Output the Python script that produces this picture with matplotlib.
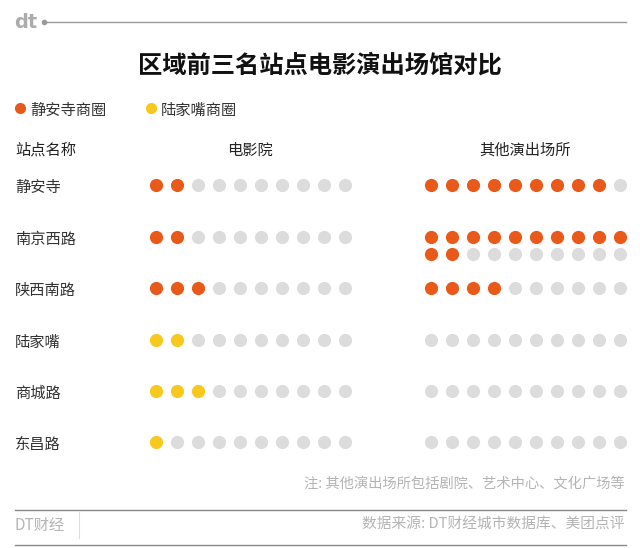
import matplotlib.pyplot as plt

plt.rcParams['font.family'] = ['Noto Sans CJK SC', 'DejaVu Sans']

# data
stations = ['静安寺', '南京西路', '陕西南路', '陆家嘴', '商城路', '东昌路']
area = ['静安寺商圈', '静安寺商圈', '静安寺商圈', '陆家嘴商圈', '陆家嘴商圈', '陆家嘴商圈']
cinema = [2, 2, 3, 2, 3, 1]
other = [9, 12, 4, 0, 0, 0]

colors = {'静安寺商圈': '#E8591A', '陆家嘴商圈': '#F7C81E'}
grey_dot = '#DCDCDC'
text_grey = '#B4B4B4'
dy = 2  # CJK glyphs sit a bit high with va='center'

fig = plt.figure(figsize=(6.4, 5.48), dpi=100)
ax = fig.add_axes([0, 0, 1, 1])
ax.set_xlim(0, 640)
ax.set_ylim(548, 0)
ax.axis('off')

# header logo + line
ax.text(14, 22, 'dt', fontsize=14, color='#ABABAB', fontweight='bold', va='center', family='DejaVu Sans')
ax.plot([44, 626], [22, 22], color='#999999', lw=1)
ax.plot([44], [22], 'o', color='#999999', ms=3)

ax.text(320, 64 + dy, '区域前三名站点电影演出场馆对比', fontsize=17.5, fontweight='bold',
        ha='center', va='center', color='#111111')

# legend
ax.plot(20, 108, 'o', color=colors['静安寺商圈'], ms=7)
ax.text(30, 108 + dy, '静安寺商圈', fontsize=11, va='center', color='#333333')
ax.plot(151, 108, 'o', color=colors['陆家嘴商圈'], ms=7)
ax.text(161, 108 + dy, '陆家嘴商圈', fontsize=11, va='center', color='#333333')

# column headers
ax.text(15, 148 + dy, '站点名称', fontsize=11, va='center', color='#222222')
ax.text(250, 148 + dy, '电影院', fontsize=11, va='center', ha='center', color='#222222')
ax.text(525, 148 + dy, '其他演出场所', fontsize=11, va='center', ha='center', color='#222222')

row_y = [185, 237, 288, 340, 391, 442]
step = 21
for i, name in enumerate(stations):
    y = row_y[i]
    c = colors[area[i]]
    ax.text(15, y + dy, name, fontsize=11, va='center', color='#333333')
    # cinema: 10 slots
    for k in range(10):
        ax.plot(156 + k * step, y, 'o', ms=9.5, mec='none',
                color=c if k < cinema[i] else grey_dot)
    # other venues: rows of 10
    nrows = max(1, (other[i] - 1) // 10 + 1)
    for r in range(nrows):
        for k in range(10):
            idx = r * 10 + k
            ax.plot(431 + k * step, y + r * 17, 'o', ms=9.5, mec='none',
                    color=c if idx < other[i] else grey_dot)

# footer
ax.text(625, 481 + dy, '注: 其他演出场所包括剧院、艺术中心、文化广场等', fontsize=10.3,
        ha='right', va='center', color=text_grey)
ax.plot([15, 626], [510, 510], color='#888888', lw=1)
ax.text(15, 523 + dy, 'DT财经', fontsize=11, va='center', color=text_grey)
ax.plot([79, 79], [512, 538], color='#DDDDDD', lw=0.8)
ax.text(625, 523 + dy, '数据来源: DT财经城市数据库、美团点评', fontsize=10.6,
        ha='right', va='center', color=text_grey)
ax.plot([15, 626], [545, 545], color='#888888', lw=1)

fig.savefig('out.png', dpi=100, facecolor='white')
